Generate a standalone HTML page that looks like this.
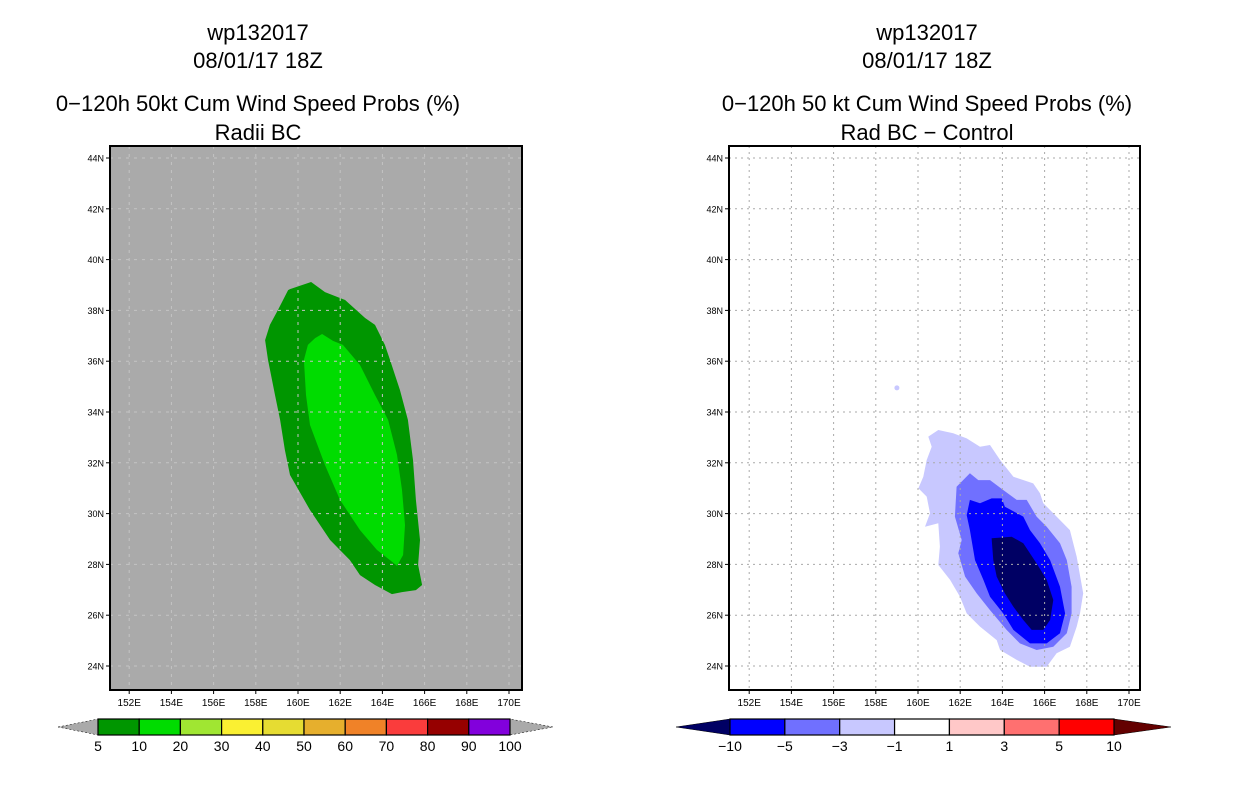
<!DOCTYPE html>
<html><head><meta charset="utf-8"><style>
html,body{margin:0;padding:0;background:#fff;width:1236px;height:800px;overflow:hidden}
svg{display:block;font-family:"Liberation Sans",sans-serif}
</style></head><body>
<svg id="fig" width="1236" height="800" viewBox="0 0 1236 800"></svg>
<script>
const lonTicks=[152,154,156,158,160,162,164,166,168,170];
const latTicks=[24,26,28,30,32,34,36,38,40,42,44];
const probOuter=[[159.62,38.84],[160.62,39.12],[161.28,38.72],[162.23,38.41],[163.18,37.70],[163.65,37.43],[164.12,36.64],[164.36,36.05],[164.83,34.87],[165.21,33.69],[165.45,32.11],[165.59,30.54],[165.78,28.96],[165.69,27.98],[165.88,27.19],[165.59,26.99],[164.93,26.91],[164.45,26.83],[163.65,27.19],[162.94,27.58],[162.46,28.17],[161.52,28.96],[160.57,30.14],[159.62,31.52],[159.38,32.50],[159.15,33.69],[158.91,34.67],[158.58,36.05],[158.44,36.83],[158.67,37.43],[159.05,38.02],[159.53,38.80]];
const probInner=[[160.81,36.91],[161.14,37.07],[161.66,36.80],[162.13,36.64],[162.94,35.85],[163.65,34.67],[164.27,33.69],[164.69,32.31],[164.93,30.93],[165.07,29.55],[164.98,28.37],[164.69,27.94],[164.36,28.17],[163.74,28.57],[162.94,29.35],[161.99,30.54],[161.28,31.91],[160.57,33.49],[160.38,34.67],[160.28,36.05],[160.47,36.64]];
const diffM1=[[160.49,33.03],[160.96,33.29],[161.67,33.16],[162.31,32.96],[162.94,32.63],[163.41,32.70],[163.89,32.11],[164.52,31.45],[165.46,31.19],[165.78,30.80],[165.94,30.41],[166.57,29.88],[167.20,29.35],[167.52,28.30],[167.83,26.86],[167.68,26.07],[167.52,25.55],[167.20,24.76],[166.57,24.50],[166.10,23.97],[165.31,23.97],[164.68,24.24],[163.89,24.63],[163.73,25.02],[162.94,25.55],[162.31,26.07],[161.99,26.73],[161.52,27.39],[160.96,27.98],[161.04,28.70],[160.96,29.62],[160.33,29.48],[160.57,30.01],[160.41,30.67],[160.02,31.00],[160.25,31.45],[160.41,32.11],[160.65,32.63]];
const diffM3=[[162.46,31.59],[162.86,31.32],[163.41,31.32],[164.04,30.93],[164.68,30.54],[165.15,30.54],[165.62,29.88],[166.10,29.48],[166.73,28.83],[167.05,28.17],[167.28,27.12],[167.28,26.07],[167.05,25.29],[166.41,24.76],[165.62,24.63],[164.83,24.89],[164.20,25.42],[163.41,26.20],[162.78,26.86],[162.23,27.52],[161.91,28.44],[162.07,28.96],[161.75,29.88],[161.83,31.06]];
const diffM5=[[162.46,30.54],[162.94,30.41],[163.49,30.60],[163.97,30.60],[164.12,30.27],[164.99,29.88],[165.31,29.35],[165.78,28.83],[166.26,28.17],[166.73,27.12],[166.97,26.07],[166.73,25.29],[166.10,24.89],[165.31,24.89],[164.52,25.42],[164.04,26.07],[163.41,26.73],[163.10,27.39],[162.70,28.17],[162.46,29.35],[162.31,29.94]];
const diffM10=[[163.49,29.03],[164.44,29.09],[164.99,28.83],[165.62,28.04],[166.10,27.39],[166.41,26.60],[166.26,25.81],[165.94,25.42],[165.39,25.42],[164.99,25.81],[164.52,26.33],[164.12,26.86],[163.73,27.52],[163.57,28.17]];
const probLevels=["5","10","20","30","40","50","60","70","80","90","100"];
const probColors=["#009600","#00dc00","#a0e632","#faf032","#e6dc32","#e6af2d","#f08228","#fa3c3c","#960000","#8200dc"];
const diffLevels=["\u221210","\u22125","\u22123","\u22121","1","3","5","10"];
const diffColors=["#0000ff","#7070ff","#c8c8ff","#ffffff","#ffc8c8","#ff7070","#ff0000"];

const NS="http://www.w3.org/2000/svg";
const svg=document.getElementById('fig');
function mk(tag,attrs,parent){const e=document.createElementNS(NS,tag);for(const k in attrs)e.setAttribute(k,attrs[k]);(parent||svg).appendChild(e);return e;}
function txt(s,x,y,size,anchor,parent){const t=mk('text',{x:x,y:y,'font-size':size,'text-anchor':anchor||'middle',fill:'#000'},parent);t.textContent=s;return t;}
const PX=21.1, PY=25.4;
function makeX(lon160){return lon=>lon160+(lon-160)*PX;}
function yOf(lat){return 158+(44-lat)*PY;}

function panel(cx,x0,x1,bg,line3,line4,name){
  const g=mk('g',{});
  
  
  const t1=txt('wp132017',cx,40,22,'middle',g);
  const t2=txt('08/01/17 18Z',cx,68,22,'middle',g);
  const t3=txt(line3,cx,111,22,'middle',g);
  const t4=txt(line4,cx,140,22,'middle',g);
  const bgr=mk('rect',{x:x0,y:146,width:x1-x0,height:544,fill:bg},g);
  
  
  return g;
}
function poly(pts,xf,fill,g,name){
  const p=mk('polygon',{points:pts.map(d=>xf(d[0]).toFixed(1)+','+yOf(d[1]).toFixed(1)).join(' '),fill:fill},g);
  
  
}
function axes(g,xf,x0,x1,gridCol,dash){
  lonTicks.forEach(l=>{const x=xf(l);
    const gl=mk('line',{x1:x,x2:x,y1:146,y2:690,stroke:gridCol,'stroke-width':1,'stroke-dasharray':dash},g);
    
    mk('line',{x1:x,x2:x,y1:690,y2:694,stroke:'#000'},g);
    const t=txt(l+'E',x,706,10,'middle',g);});
  latTicks.forEach(l=>{const y=yOf(l);
    const gl=mk('line',{x1:x0,x2:x1,y1:y,y2:y,stroke:gridCol,'stroke-width':1,'stroke-dasharray':dash},g);
    
    mk('line',{x1:x0-4,x2:x0,y1:y,y2:y,stroke:'#000'},g);
    const t=txt(l+'N',x0-6,y+3.5,9,'end',g);});
  const fr=mk('rect',{x:x0,y:146,width:x1-x0,height:544,fill:'none',stroke:'#000','stroke-width':2},g);
  
}
function colorbar(g,xs,xe,tl,tr,colors,labels,leftCol,rightCol,name){
  const cb=mk('g',{},g);
  
  
  const n=colors.length, w=(xe-xs)/n;
  mk('polygon',{points:`${tl},727 ${xs},719 ${xs},735`,fill:leftCol,stroke:'#000','stroke-width':0.5,'stroke-dasharray':leftCol=='#aaaaaa'?'2,2':'none'},cb);
  mk('polygon',{points:`${tr},727 ${xe},719 ${xe},735`,fill:rightCol,stroke:'#000','stroke-width':0.5,'stroke-dasharray':rightCol=='#aaaaaa'?'2,2':'none'},cb);
  colors.forEach((c,i)=>{const r=mk('rect',{x:xs+i*w,y:719,width:w,height:16,fill:c,stroke:'#000','stroke-width':1.2},cb);
    });
  labels.forEach((s,i)=>{const t=txt(s,xs+i*w,751,14,'middle',cb);});
}

// Left panel
const xL=makeX(298);
const gL=panel(258,110,522,'#aaaaaa','0\u2212120h 50kt Cum Wind Speed Probs (%)','Radii BC','left-panel');
poly(probOuter,xL,probColors[0],gL,'prob-5-10-region');
poly(probInner,xL,probColors[1],gL,'prob-10-20-region');
axes(gL,xL,110,522,'#c4c4c4','3,5');
colorbar(gL,98,510,58,553,probColors,probLevels,'#aaaaaa','#aaaaaa','prob-colorbar');

// Right panel
const xR=makeX(918);
const gR=panel(927,729,1140,'#ffffff','0\u2212120h 50 kt Cum Wind Speed Probs (%)','Rad BC \u2212 Control','right-panel');
poly(diffM1,xR,'#c8c8ff',gR,'diff-minus1-region');
poly(diffM3,xR,'#7070ff',gR,'diff-minus3-region');
poly(diffM5,xR,'#0000ff',gR,'diff-minus5-region');
poly(diffM10,xR,'#000064',gR,'diff-minus10-region');
const dot=mk('ellipse',{cx:xR(159.0),cy:yOf(34.95),rx:2.5,ry:2.5,fill:'#c8c8ff'},gR);

axes(gR,xR,729,1140,'#aaaaaa','2,4');
colorbar(gR,730,1114,676,1171,diffColors,diffLevels,'#000064','#640000','diff-colorbar');
</script>
</body></html>
